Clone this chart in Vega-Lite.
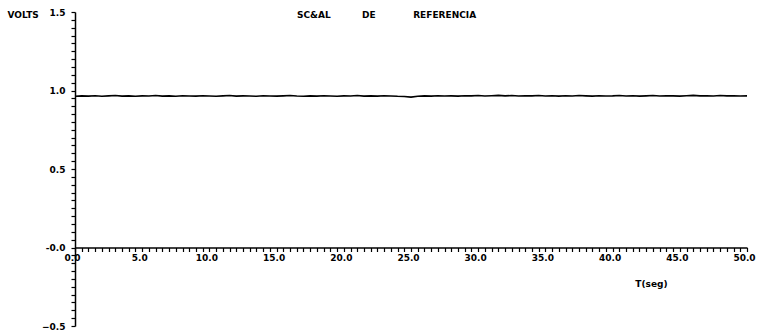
{
  "$schema": "https://vega.github.io/schema/vega-lite/v6.json",
  "autosize": {"type": "none"},
  "padding": {"left": 75, "top": 12, "right": 10, "bottom": 4},
  "width": 672,
  "height": 314,
  "background": "white",
  "config": {
    "view": {"stroke": null},
    "font": "DejaVu Sans",
    "axis": {"grid": false, "domainColor": "black", "tickColor": "black", "labelColor": "black", "titleColor": "black", "labelFont": "DejaVu Sans", "titleFont": "DejaVu Sans", "labelFontWeight": "bold", "titleFontWeight": "bold", "labelFontSize": 9, "titleFontSize": 9, "domainWidth": 1.5, "tickWidth": 1.2, "labelOverlap": false, "labelBound": false, "labelFlush": false}
  },
  "title": {
    "text": "SC&AL\u00a0\u00a0\u00a0\u00a0\u00a0\u00a0\u00a0\u00a0\u00a0\u00a0DE\u00a0\u00a0\u00a0\u00a0\u00a0\u00a0\u00a0\u00a0\u00a0\u00a0\u00a0\u00a0REFERENCIA",
    "anchor": "start",
    "dx": 290,
    "offset": 0,
    "baseline": "middle",
    "dy": 16,
    "font": "DejaVu Sans",
    "fontSize": 9,
    "fontWeight": "bold",
    "color": "black"
  },
  "data": {"values": [
    {"t": 0.0, "v": 0.963}, {"t": 0.5, "v": 0.966}, {"t": 1.0, "v": 0.964}, {"t": 1.5, "v": 0.967}, {"t": 2.0, "v": 0.963},
    {"t": 2.5, "v": 0.966}, {"t": 3.0, "v": 0.968}, {"t": 3.5, "v": 0.964}, {"t": 4.0, "v": 0.966}, {"t": 4.5, "v": 0.963},
    {"t": 5.0, "v": 0.966}, {"t": 5.5, "v": 0.965}, {"t": 6.0, "v": 0.968}, {"t": 6.5, "v": 0.964}, {"t": 7.0, "v": 0.966},
    {"t": 7.5, "v": 0.963}, {"t": 8.0, "v": 0.967}, {"t": 8.5, "v": 0.965}, {"t": 9.0, "v": 0.964}, {"t": 9.5, "v": 0.967},
    {"t": 10.0, "v": 0.965}, {"t": 10.5, "v": 0.963}, {"t": 11.0, "v": 0.966}, {"t": 11.5, "v": 0.968}, {"t": 12.0, "v": 0.964},
    {"t": 12.5, "v": 0.966}, {"t": 13.0, "v": 0.965}, {"t": 13.5, "v": 0.963}, {"t": 14.0, "v": 0.967}, {"t": 14.5, "v": 0.965},
    {"t": 15.0, "v": 0.964}, {"t": 15.5, "v": 0.966}, {"t": 16.0, "v": 0.968}, {"t": 16.5, "v": 0.965}, {"t": 17.0, "v": 0.963},
    {"t": 17.5, "v": 0.966}, {"t": 18.0, "v": 0.964}, {"t": 18.5, "v": 0.967}, {"t": 19.0, "v": 0.965}, {"t": 19.5, "v": 0.963},
    {"t": 20.0, "v": 0.966}, {"t": 20.5, "v": 0.965}, {"t": 21.0, "v": 0.968}, {"t": 21.5, "v": 0.964}, {"t": 22.0, "v": 0.966},
    {"t": 22.5, "v": 0.964}, {"t": 23.0, "v": 0.967}, {"t": 23.5, "v": 0.965}, {"t": 24.0, "v": 0.963}, {"t": 24.5, "v": 0.962},
    {"t": 25.0, "v": 0.958}, {"t": 25.5, "v": 0.963}, {"t": 26.0, "v": 0.966}, {"t": 26.5, "v": 0.964}, {"t": 27.0, "v": 0.967},
    {"t": 27.5, "v": 0.965}, {"t": 28.0, "v": 0.966}, {"t": 28.5, "v": 0.964}, {"t": 29.0, "v": 0.967}, {"t": 29.5, "v": 0.966},
    {"t": 30.0, "v": 0.968}, {"t": 30.5, "v": 0.965}, {"t": 31.0, "v": 0.967}, {"t": 31.5, "v": 0.969}, {"t": 32.0, "v": 0.966},
    {"t": 32.5, "v": 0.968}, {"t": 33.0, "v": 0.965}, {"t": 33.5, "v": 0.967}, {"t": 34.0, "v": 0.966}, {"t": 34.5, "v": 0.968},
    {"t": 35.0, "v": 0.965}, {"t": 35.5, "v": 0.967}, {"t": 36.0, "v": 0.964}, {"t": 36.5, "v": 0.967}, {"t": 37.0, "v": 0.965},
    {"t": 37.5, "v": 0.968}, {"t": 38.0, "v": 0.966}, {"t": 38.5, "v": 0.964}, {"t": 39.0, "v": 0.967}, {"t": 39.5, "v": 0.965},
    {"t": 40.0, "v": 0.966}, {"t": 40.5, "v": 0.968}, {"t": 41.0, "v": 0.965}, {"t": 41.5, "v": 0.967}, {"t": 42.0, "v": 0.964},
    {"t": 42.5, "v": 0.966}, {"t": 43.0, "v": 0.968}, {"t": 43.5, "v": 0.965}, {"t": 44.0, "v": 0.967}, {"t": 44.5, "v": 0.966},
    {"t": 45.0, "v": 0.964}, {"t": 45.5, "v": 0.967}, {"t": 46.0, "v": 0.969}, {"t": 46.5, "v": 0.966}, {"t": 47.0, "v": 0.967},
    {"t": 47.5, "v": 0.965}, {"t": 48.0, "v": 0.968}, {"t": 48.5, "v": 0.966}, {"t": 49.0, "v": 0.967}, {"t": 49.5, "v": 0.965},
    {"t": 50.0, "v": 0.966}
  ]},
  "mark": {"type": "line", "color": "black", "strokeWidth": 1.6, "clip": false},
  "encoding": {
    "x": {
      "field": "t", "type": "quantitative",
      "scale": {"domain": [0, 50], "nice": false, "zero": false},
      "axis": {
        "orient": "bottom",
        "offset": -78.5,
        "values": [0,0.5,1,1.5,2,2.5,3,3.5,4,4.5,5,5.5,6,6.5,7,7.5,8,8.5,9,9.5,10,10.5,11,11.5,12,12.5,13,13.5,14,14.5,15,15.5,16,16.5,17,17.5,18,18.5,19,19.5,20,20.5,21,21.5,22,22.5,23,23.5,24,24.5,25,25.5,26,26.5,27,27.5,28,28.5,29,29.5,30,30.5,31,31.5,32,32.5,33,33.5,34,34.5,35,35.5,36,36.5,37,37.5,38,38.5,39,39.5,40,40.5,41,41.5,42,42.5,43,43.5,44,44.5,45,45.5,46,46.5,47,47.5,48,48.5,49,49.5,50],
        "labelExpr": "abs(datum.value/5 - round(datum.value/5)) < 0.001 ? format(datum.value, '.1f') : ''",
        "tickSize": 4,
        "labelPadding": 2,
        "labelOffset": -3,
        "title": "T(seg)",
        "titleAngle": 0,
        "titleX": 576,
        "titleY": 35.5,
        "titleAlign": "center",
        "titleBaseline": "middle",
        "titleAnchor": null
      }
    },
    "y": {
      "field": "v", "type": "quantitative",
      "scale": {"domain": [-0.5, 1.5], "nice": false, "zero": false},
      "axis": {
        "orient": "left",
        "values": [-0.5,-0.45,-0.4,-0.35,-0.3,-0.25,-0.2,-0.15,-0.1,-0.05,0,0.05,0.1,0.15,0.2,0.25,0.3,0.35,0.4,0.45,0.5,0.55,0.6,0.65,0.7,0.75,0.8,0.85,0.9,0.95,1,1.05,1.1,1.15,1.2,1.25,1.3,1.35,1.4,1.45,1.5],
        "labelExpr": "abs(datum.value*2 - round(datum.value*2)) < 0.001 ? (abs(datum.value) < 0.001 ? '-0.0' : format(datum.value, '.1f')) : ''",
        "tickSize": 4,
        "labelPadding": 6,
        "title": "VOLTS",
        "titleAngle": 0,
        "titleX": -68,
        "titleY": 2,
        "titleAlign": "left",
        "titleBaseline": "middle",
        "titleAnchor": null
      }
    }
  }
}
